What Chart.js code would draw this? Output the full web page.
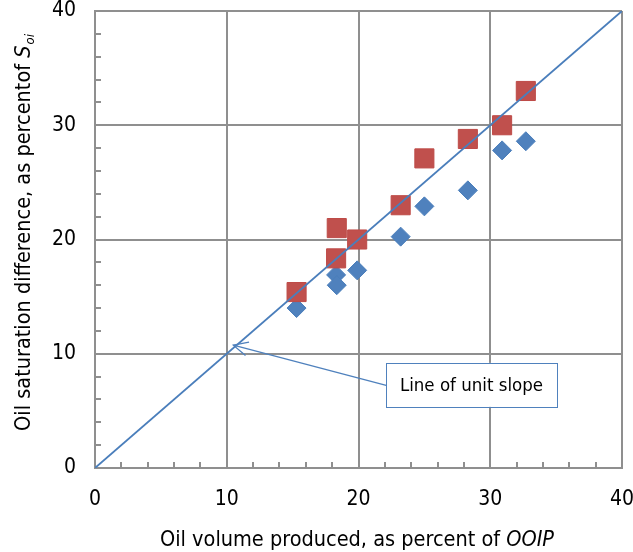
<!DOCTYPE html>
<html><head><meta charset="utf-8">
<style>html,body{margin:0;padding:0;background:#fff;}#wrap{width:633px;height:552px;}</style>
<script src="https://cdn.jsdelivr.net/npm/chart.js@4.4.0/dist/chart.umd.min.js"></script>
</head><body><div id="wrap"><canvas id="c" width="633" height="552"></canvas></div>
<script>
// Data
const axisTicks = [0, 10, 20, 30, 40];
const diamondX = [15.3, 18.3, 18.35, 19.9, 23.2, 25.0, 28.3, 30.9, 32.7];
const diamondY = [14.0, 16.9, 16.0, 17.3, 20.25, 22.9, 24.3, 27.8, 28.6];
const squareX  = [15.3, 18.35, 18.3, 19.9, 23.2, 25.0, 28.3, 30.9, 32.7];
const squareY  = [15.4, 21.0, 18.35, 20.0, 23.0, 27.1, 28.8, 30.0, 33.0];
const unitLineX = [0, 40];
const unitLineY = [0, 40];
const annotationText = "Line of unit slope";
const xTitle = ["Oil volume produced, as percent of ", "OOIP"];
const yTitle = ["Oil saturation difference, as percentof ", "S", "oi"];

const FONT = '"DejaVu Sans Condensed", "Liberation Sans Narrow", sans-serif';
const GRID = '#8f8f8f';
const BLUE = '#4F81BD';
const RED = '#C0504D';

const toPts = (xs, ys) => xs.map((x, i) => ({x, y: ys[i]}));

const extras = {
  id: 'extras',
  beforeDatasetsDraw(chart) {
    const {ctx, scales: {x, y}} = chart;
    ctx.save();
    ctx.strokeStyle = GRID; ctx.lineWidth = 2;
    ctx.beginPath();
    for (let v = 2; v < 40; v += 2) {
      if (v % 10 === 0) continue;
      const py = Math.round(y.getPixelForValue(v));
      ctx.moveTo(x.left, py); ctx.lineTo(x.left + 6, py);
      const px = Math.round(x.getPixelForValue(v));
      ctx.moveTo(px, y.bottom); ctx.lineTo(px, y.bottom - 6);
    }
    ctx.stroke();
    ctx.restore();
  },
  afterDatasetsDraw(chart) {
    const {ctx, scales: {x, y}} = chart;
    ctx.save();
    const bx1 = x.getPixelForValue(22.1), bx2 = x.getPixelForValue(35.05);
    const by1 = y.getPixelForValue(9.2), by2 = y.getPixelForValue(5.35);
    const tipX = x.getPixelForValue(10.5), tipY = y.getPixelForValue(10.75);
    const sx = bx1, sy = (by1 + by2) / 2 + 0.5;
    ctx.strokeStyle = BLUE; ctx.lineWidth = 1.3;
    ctx.beginPath(); ctx.moveTo(sx, sy); ctx.lineTo(tipX, tipY); ctx.stroke();
    const ang = Math.atan2(sy - tipY, sx - tipX);
    const L = 16, spread = 0.45;
    ctx.beginPath();
    ctx.moveTo(tipX + L * Math.cos(ang - spread), tipY + L * Math.sin(ang - spread));
    ctx.lineTo(tipX, tipY);
    ctx.lineTo(tipX + L * Math.cos(ang + spread), tipY + L * Math.sin(ang + spread));
    ctx.stroke();
    ctx.fillStyle = '#fff';
    ctx.fillRect(bx1, by1, bx2 - bx1, by2 - by1);
    ctx.lineWidth = 1;
    ctx.strokeRect(Math.round(bx1) + 0.5, Math.round(by1) + 0.5, Math.round(bx2 - bx1), Math.round(by2 - by1));
    ctx.fillStyle = '#000';
    ctx.font = '18.5px ' + FONT;
    ctx.textAlign = 'center'; ctx.textBaseline = 'middle';
    ctx.fillText(annotationText, (bx1 + bx2) / 2, (by1 + by2) / 2 + 1);
    ctx.restore();
  },
  afterDraw(chart) {
    const {ctx} = chart;
    ctx.save();
    ctx.fillStyle = '#000';
    ctx.textBaseline = 'alphabetic';
    const fN = '21.5px ' + FONT, fI = 'italic 21.5px ' + FONT, fS = 'italic 13px ' + FONT;
    ctx.font = fN; const w1 = ctx.measureText(xTitle[0]).width;
    ctx.font = fI; const w2 = ctx.measureText(xTitle[1]).width;
    const cx = 357 - (w1 + w2) / 2;
    const ty = 546;
    ctx.textAlign = 'left';
    ctx.font = fN; ctx.fillText(xTitle[0], cx, ty);
    ctx.font = fI; ctx.fillText(xTitle[1], cx + w1, ty);
    // y title (rotated)
    ctx.translate(30, 233);
    ctx.rotate(-Math.PI / 2);
    ctx.font = fN; const a1 = ctx.measureText(yTitle[0]).width;
    ctx.font = fI; const a2 = ctx.measureText(yTitle[1]).width;
    ctx.font = fS; const a3 = ctx.measureText(yTitle[2]).width;
    const sx = -(a1 + a2 + a3) / 2;
    ctx.font = fN; ctx.fillText(yTitle[0], sx, 0);
    ctx.font = fI; ctx.fillText(yTitle[1], sx + a1, 0);
    ctx.font = fS; ctx.fillText(yTitle[2], sx + a1 + a2 + 1, 4);
    ctx.restore();
  }
};

const zeroPad = (s) => { s.paddingTop = 0; s.paddingBottom = 0; s.paddingLeft = 0; s.paddingRight = 0; };

const scaleCommon = {
  type: 'linear', min: 0, max: 40,
  afterBuildTicks: (s) => { s.ticks = axisTicks.map(v => ({value: v})); },
  grid: {color: GRID, lineWidth: 2, drawTicks: false},
  border: {display: true, color: GRID, width: 2},
  ticks: {color: '#000', font: {family: FONT, size: 21}, padding: 19, maxRotation: 0}
};

new Chart(document.getElementById('c'), {
  type: 'scatter',
  data: {
    datasets: [
      {label: 'Line of unit slope', data: toPts(unitLineX, unitLineY), showLine: true,
       borderColor: '#4A7EBB', borderWidth: 1.8, pointRadius: 0, fill: false},
      {label: 'Saturation squares', data: toPts(squareX, squareY), pointStyle: 'rect',
       pointRadius: 13.5, backgroundColor: RED, borderColor: '#BE4B48', borderWidth: 1},
      {label: 'Saturation diamonds', data: toPts(diamondX, diamondY), pointStyle: 'rectRot',
       pointRadius: 9.5, backgroundColor: BLUE, borderColor: '#4A7EBB', borderWidth: 1}
    ]
  },
  options: {
    responsive: false, animation: false, devicePixelRatio: 1,
    layout: {autoPadding: false, padding: {top: 11, right: 11, left: 0, bottom: 0}},
    plugins: {legend: {display: false}, tooltip: {enabled: false}},
    scales: {
      x: Object.assign({}, scaleCommon, {afterFit: (s) => { s.height = 84; zeroPad(s); }}),
      y: Object.assign({}, scaleCommon, {afterFit: (s) => { s.width = 95; zeroPad(s); }})
    }
  },
  plugins: [extras]
});
</script></body></html>
